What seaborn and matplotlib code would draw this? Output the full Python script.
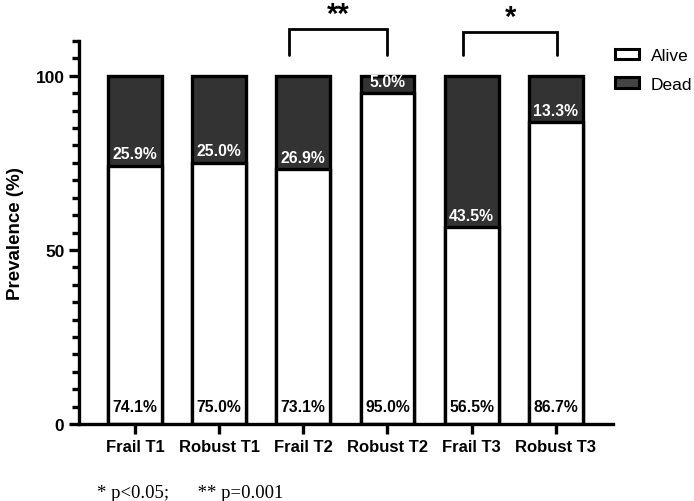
import numpy as np
import pandas as pd
import matplotlib
matplotlib.use("Agg")
import matplotlib.pyplot as plt
import seaborn as sns
from matplotlib.patches import Patch
from matplotlib.ticker import MultipleLocator

# data
groups = ["Frail T1", "Robust T1", "Frail T2", "Robust T2", "Frail T3", "Robust T3"]
alive = [74.1, 75.0, 73.1, 95.0, 56.5, 86.7]
dead = [25.9, 25.0, 26.9, 5.0, 43.5, 13.3]
sig_pairs = [(2, 3, "**"), (4, 5, "*")]

df = pd.DataFrame({"group": groups, "alive": alive, "dead": dead})
df["total"] = df["alive"] + df["dead"]

sns.set_style("ticks", {"axes.edgecolor": "black", "text.color": "black",
                        "axes.labelcolor": "black", "xtick.color": "black",
                        "ytick.color": "black"})
plt.rcParams["font.family"] = ["Liberation Sans", "DejaVu Sans"]
plt.rcParams["font.weight"] = "bold"

fig = plt.figure(figsize=(6.94, 5.02), dpi=100)
ax = fig.add_axes([0.1138, 0.1534, 0.7695, 0.7629])

lw = 2.4
# dead on the full height, alive drawn over it
sns.barplot(data=df, x="group", y="total", color="#333333", width=0.64,
            edgecolor="black", linewidth=lw, saturation=1, ax=ax)
sns.barplot(data=df, x="group", y="alive", color="white", width=0.64,
            edgecolor="black", linewidth=lw, saturation=1, ax=ax)

for i, (a, d) in enumerate(zip(alive, dead)):
    ax.text(i, a + 1.3, f"{d:.1f}%", ha="center", va="bottom", color="white",
            fontsize=11.3, fontweight="bold")
    ax.text(i, 5, f"{a:.1f}%", ha="center", va="center", color="black",
            fontsize=11.3, fontweight="bold")

ax.set_xlim(-0.665, 5.68)
ax.set_ylim(0, 110)
ax.set_yticks([0, 50, 100])
ax.yaxis.set_minor_locator(MultipleLocator(5))
ax.set_xlabel("")
ax.set_ylabel("Prevalence (%)", fontsize=13.5, fontweight="bold", labelpad=8)
ax.tick_params(axis="x", which="major", length=7, width=lw, labelsize=12)
ax.tick_params(axis="y", which="major", length=7, width=lw, labelsize=12.5)
ax.tick_params(axis="y", which="minor", length=5, width=lw)
for lab in ax.get_xticklabels() + ax.get_yticklabels():
    lab.set_fontweight("bold")
sns.despine(ax=ax)
for s in ["left", "bottom"]:
    ax.spines[s].set_linewidth(lw)

# significance brackets
offs = {"**": (-0.17, 0.0), "*": (-0.1, 0.02)}
for i, j, star in sig_pairs:
    x0, x1 = i + offs[star][0], j + offs[star][1]
    top = 113.5 if star == "**" else 112.7
    ax.plot([x0, x0, x1, x1], [106, top, top, 106], color="black", lw=2,
            clip_on=False, solid_joinstyle="miter")
    ax.text((x0 + x1) / 2, top + 0.3, star, ha="center", va="bottom",
            fontsize=21, fontweight="bold")

handles = [Patch(facecolor="white", edgecolor="black", linewidth=2.2, label="Alive"),
           Patch(facecolor="#444444", edgecolor="black", linewidth=2.2, label="Dead")]
leg = ax.legend(handles=handles, loc="upper left", bbox_to_anchor=(0.974, 1.022),
                frameon=False, fontsize=12.5, handlelength=1.38, handleheight=0.57,
                labelspacing=0.78, handletextpad=0.7)
for t in leg.get_texts():
    t.set_fontweight("normal")

fig.text(0.14, 0.008, "* p<0.05;      ** p=0.001", family=["Liberation Serif"],
         fontsize=13.5, fontweight="normal")

fig.savefig("out.png", dpi=100)
